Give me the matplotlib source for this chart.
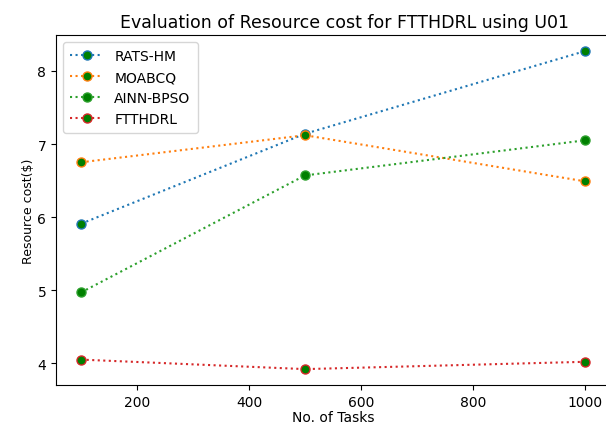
import matplotlib.pyplot as plt

tasks = [100, 500, 1000]
rats_hm = [5.91, 7.14, 8.27]
moabcq = [6.75, 7.12, 6.49]
ainn_bpso = [4.97, 6.57, 7.05]
ftthdrl = [4.05, 3.92, 4.02]

series = [
    ('RATS-HM', rats_hm, 'tab:blue'),
    ('MOABCQ', moabcq, 'tab:orange'),
    ('AINN-BPSO', ainn_bpso, 'tab:green'),
    ('FTTHDRL', ftthdrl, 'tab:red'),
]

fig = plt.figure(figsize=(6.06, 4.27), dpi=100)
ax = fig.add_axes([0.0924, 0.096, 0.914, 0.819])

for name, vals, col in series:
    ax.plot(tasks, vals, linestyle=':', color=col, marker='o', markersize=6.5,
            markerfacecolor='green', markeredgecolor=col, label=name)

ax.set_title('Evaluation of Resource cost for FTTHDRL using U01', fontsize=12.5, x=0.52)
ax.set_xlabel('No. of Tasks', fontsize=10, labelpad=1)
ax.set_ylabel('Resource cost($)', fontsize=9, labelpad=2)
ax.tick_params(labelsize=10)
ax.legend(loc='upper left', fontsize=10, handlelength=2.4, borderpad=0.5)

plt.savefig('out.png', dpi=100)
